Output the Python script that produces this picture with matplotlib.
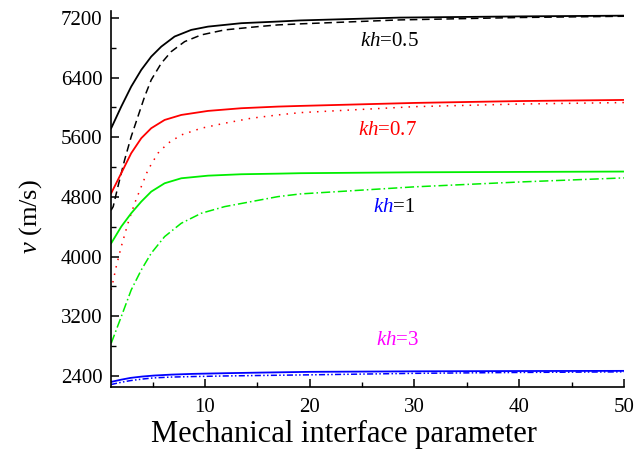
import matplotlib
matplotlib.use("Agg")
import matplotlib.pyplot as plt
from matplotlib.ticker import MultipleLocator

plt.rcParams['font.family'] = ['Liberation Serif', 'DejaVu Serif']
plt.rcParams['mathtext.fontset'] = 'custom'
plt.rcParams['mathtext.rm'] = 'Liberation Serif'
plt.rcParams['mathtext.it'] = 'Liberation Serif:italic'

# kh = 0.5
x_k05_solid = [1.05, 2.01, 2.96, 3.92, 4.87, 5.83, 7.1, 8.69, 10.29, 13.47, 16.97, 19.1, 28.6, 40, 50]
y_k05_solid = [5721, 6011, 6279, 6503, 6681, 6815, 6950, 7039, 7083, 7129, 7151, 7166, 7204, 7220, 7230]
x_k05_dash = [1.03, 1.24, 1.69, 2.33, 2.96, 3.6, 4.24, 4.87, 5.83, 6.78, 8.06, 9.65, 11.88, 15.06, 16.97, 19.1, 28.6, 40, 50]
y_k05_dash = [4620, 4670, 4938, 5296, 5609, 5877, 6145, 6369, 6592, 6748, 6882, 6972, 7039, 7083, 7106, 7120, 7173, 7205, 7222]
# kh = 0.7
x_k07_solid = [1.05, 2.01, 2.96, 3.92, 4.87, 6.15, 7.74, 10.29, 13.47, 16.97, 19.1, 30, 40, 50]
y_k07_solid = [4850, 5118, 5386, 5587, 5721, 5832, 5899, 5953, 5989, 6011, 6020, 6060, 6085, 6100]
x_k07_dot = [1.05, 1.53, 2.01, 2.65, 3.29, 3.92, 4.56, 5.51, 6.47, 7.74, 9.65, 11.88, 14.42, 16.97, 19.1, 30, 40, 50]
y_k07_dot = [3553, 3866, 4134, 4447, 4715, 4938, 5162, 5386, 5520, 5631, 5721, 5788, 5855, 5899, 5930, 6010, 6045, 6065]
# kh = 1
x_k1_solid = [1.05, 2.01, 2.96, 3.92, 4.87, 6.15, 7.74, 10.29, 13.47, 16.97, 19.1, 30, 50]
y_k1_solid = [4179, 4402, 4581, 4737, 4871, 4983, 5050, 5085, 5104, 5112, 5118, 5130, 5140]
x_k1_dd = [1.05, 2.01, 2.96, 3.92, 4.87, 6.15, 7.74, 9.65, 11.88, 14.42, 16.97, 19.1, 30, 40, 50]
y_k1_dd = [2838, 3195, 3553, 3821, 4045, 4268, 4447, 4581, 4670, 4737, 4804, 4840, 4935, 5000, 5055]
# kh = 3
x_k3_solid = [1.03, 2.0, 2.9, 4.0, 5.1, 6.8, 8.9, 12, 15.3, 20, 30, 40, 50]
y_k3_solid = [2320, 2350, 2374, 2392, 2405, 2418, 2428, 2437, 2445, 2455, 2462, 2466, 2468]
x_k3_dd = [1.03, 2.0, 2.9, 4.0, 5.1, 6.8, 8.9, 12, 20, 30, 40, 50]
y_k3_dd = [2285, 2315, 2338, 2358, 2374, 2385, 2392, 2400, 2415, 2435, 2447, 2455]

fig = plt.figure(figsize=(6.39, 4.57), dpi=100)
ax = fig.add_axes([0.1737, 0.1532, 0.8028, 0.823])

lw = 1.3
ax.plot(x_k05_solid, y_k05_solid, color='black', lw=lw)
ax.plot(x_k05_dash, y_k05_dash, color='black', lw=1.1, ls=(0, (5, 3)))
ax.plot(x_k07_solid, y_k07_solid, color='#ff0000', lw=lw)
ax.plot(x_k07_dot, y_k07_dot, color='#ff0000', lw=1.1, ls=(0, (1, 4)))
ax.plot(x_k1_solid, y_k1_solid, color='#00ee00', lw=lw)
ax.plot(x_k1_dd, y_k1_dd, color='#00ee00', lw=1.1, ls=(0, (6, 2, 1, 2)))
ax.plot(x_k3_solid, y_k3_solid, color='#0000ff', lw=lw)
ax.plot(x_k3_dd, y_k3_dd, color='#0000ff', lw=1.1, ls=(0, (4, 1.5, 1, 1.5, 1, 1.5)))

ax.set_xlim(1.03, 50)
ax.set_ylim(2252, 7294)
ax.xaxis.set_major_locator(MultipleLocator(10))
ax.xaxis.set_minor_locator(MultipleLocator(5))
ax.yaxis.set_major_locator(MultipleLocator(800))
ax.yaxis.set_minor_locator(MultipleLocator(400))
ax.tick_params(which='major', direction='in', length=6, width=1.1, labelsize=15, pad=6)
ax.tick_params(axis='x', which='major', pad=8)
ax.tick_params(which='minor', direction='in', length=3.5, width=1.0)
for s in ['top', 'right']:
    ax.spines[s].set_visible(False)
for s in ['left', 'bottom']:
    ax.spines[s].set_linewidth(1.2)

ax.set_xlabel('Mechanical interface parameter', fontsize=22)
ax.xaxis.set_label_coords(0.454, -0.088)
ax.set_ylabel(r'$\mathit{v}$ (m/s)', fontsize=19)
ax.yaxis.set_label_coords(-0.13, 0.452)

fs = 15
ax.text(24.8, 6878, r'$\mathit{kh}$=0.5', color='black', fontsize=fs, va='center')
ax.text(24.6, 5685, r'$\mathit{kh}$=0.7', color='#ff0000', fontsize=fs, va='center')
t1 = ax.text(26.0, 4652, r'$\mathit{kh}$', color='#0000ff', fontsize=fs, va='center')
ax.text(26.3, 2869, r'$\mathit{kh}$=3', color='#ff00ff', fontsize=fs, va='center')

fig.canvas.draw()
r = fig.canvas.get_renderer()
bb = t1.get_window_extent(renderer=r)
inv = ax.transData.inverted()
xe, _ = inv.transform((bb.x1, bb.y0))
ax.text(xe, 4652, '=1', color='black', fontsize=fs, va='center')

fig.savefig('out.png', dpi=100)
